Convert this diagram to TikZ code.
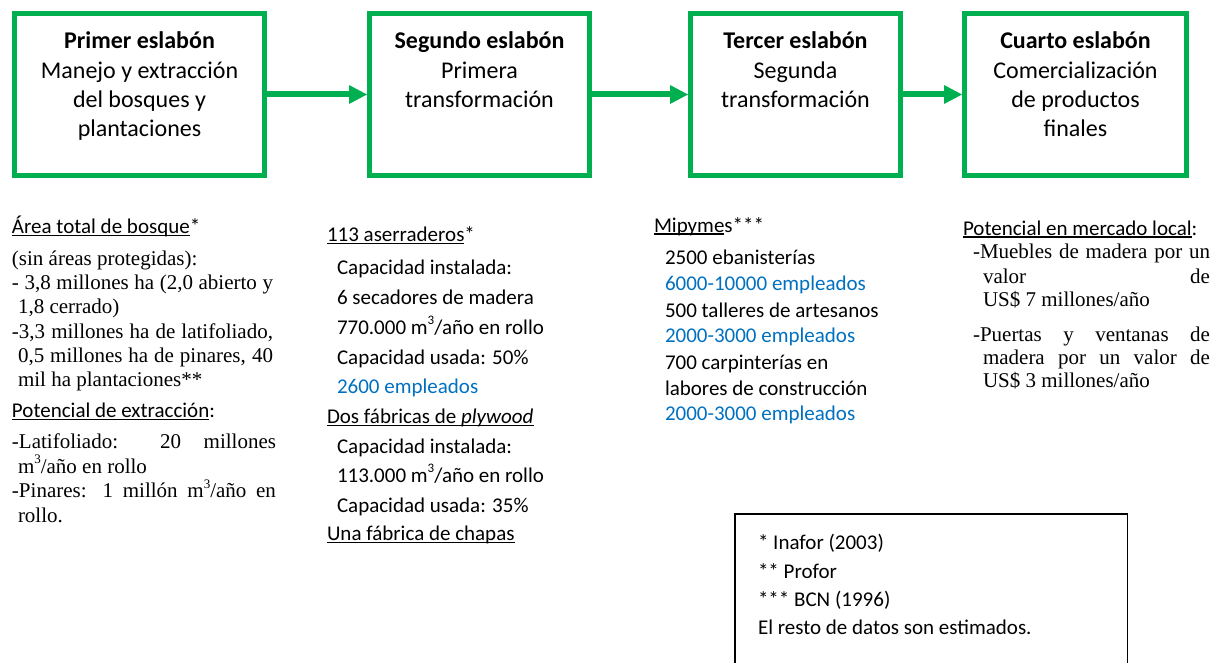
\documentclass[tikz,border=0pt]{standalone}
\usepackage{fontspec}
\setmainfont{Liberation Serif}
\newfontfamily\calfont{Carlito}
\usetikzlibrary{arrows.meta}
\definecolor{boxgreen}{HTML}{00B050}
\definecolor{empblue}{HTML}{0070C0}
\newcommand\myul[1]{\setbox0\hbox{#1}\rlap{\rule[-2.6pt]{\wd0}{1.1pt}}\box0}
\newcommand\sups[1]{\raisebox{0.45em}{\fontsize{13}{13}\selectfont #1}}
\newcommand\TL[5][]{\node[txt,#1] (#2) at (#3,#4) {#5};}
\begin{document}
\begin{tikzpicture}[x=1pt,y=-1pt,
  txt/.style={inner sep=0pt, outer sep=0pt, anchor=base west},
  ctr/.style={anchor=base},
  bigc/.style={font=\calfont\fontsize{24}{29}\selectfont},
  smc/.style={font=\calfont\fontsize{21}{25}\selectfont},
  tms/.style={font=\fontsize{21}{25}\selectfont},
  emp/.style={text=empblue},
  chainbox/.style={draw=boxgreen, line width=5pt, inner sep=0pt, outer sep=0pt, minimum height=162pt},
  link/.style={draw=boxgreen, line width=6pt, -{Triangle[length=18pt,width=19pt,line width=0pt]}, shorten >=2.5pt},
  notebox/.style={draw=black, line width=1.5pt, inner sep=0pt, outer sep=0pt, anchor=north west}
]
\useasboundingbox (0,0) rectangle (1212,663);
\clip (0,0) rectangle (1212,663);

% chain boxes
\node[chainbox, minimum width=250pt] (b1) at (139.5,94.5) {};
\node[chainbox, minimum width=220pt] (b2) at (479.5,94.5) {};
\node[chainbox, minimum width=210pt] (b3) at (795.5,94.5) {};
\node[chainbox, minimum width=222pt] (b4) at (1075.5,94.5) {};
\draw[link] (b1.east) -- (b2.west);
\draw[link] (b2.east) -- (b3.west);
\draw[link] (b3.east) -- (b4.west);

% box texts
\TL[bigc,ctr]{t1a}{139.5}{49}{\bfseries Primer eslabón}
\TL[bigc,ctr]{t1b}{139.5}{78.3}{Manejo y extracción}
\TL[bigc,ctr]{t1c}{139.5}{107.6}{del bosques y}
\TL[bigc,ctr]{t1d}{139.5}{136.9}{plantaciones}
\TL[bigc,ctr]{t2a}{479.5}{49}{\bfseries Segundo eslabón}
\TL[bigc,ctr]{t2b}{479.5}{78.3}{Primera}
\TL[bigc,ctr]{t2c}{479.5}{107.6}{transformación}
\TL[bigc,ctr]{t3a}{795.5}{49}{\bfseries Tercer eslabón}
\TL[bigc,ctr]{t3b}{795.5}{78.3}{Segunda}
\TL[bigc,ctr]{t3c}{795.5}{107.6}{transformación}
\TL[bigc,ctr]{t4a}{1075.5}{49}{\bfseries Cuarto eslabón}
\TL[bigc,ctr]{t4b}{1075.5}{78.3}{Comercialización}
\TL[bigc,ctr]{t4c}{1075.5}{107.6}{de productos}
\TL[bigc,ctr]{t4d}{1075.5}{136.9}{finales}

% column 1
\TL[smc]{c1a}{12}{233.5}{\myul{Área total de bosque}*}
\TL[tms]{c1b}{12}{265}{(sin áreas protegidas):}
\TL[tms]{c1c}{12}{289}{\makebox[261pt][s]{- 3,8 millones ha (2,0 abierto y}}
\TL[tms]{c1d}{18}{313.5}{1,8 cerrado)}
\TL[tms]{c1e}{12}{338}{\makebox[261pt][s]{-3,3 millones ha de latifoliado,}}
\TL[tms]{c1f}{18}{362}{\makebox[255pt][s]{0,5 millones ha de pinares, 40}}
\TL[tms]{c1g}{18}{386}{mil ha plantaciones**}
\TL[smc]{c1h}{12}{417.5}{\myul{Potencial de extracción}:}
\TL[tms]{c1i}{12}{448}{\makebox[264pt][s]{-Latifoliado: 20 millones}}
\TL[tms]{c1j}{18}{473}{m\sups{3}/año en rollo}
\TL[tms]{c1k}{12}{497.5}{\makebox[264pt][s]{-Pinares: 1 millón m\sups{3}/año en}}
\TL[tms]{c1l}{18}{522}{rollo.}

% column 2
\TL[smc]{c2a}{327}{241.5}{\myul{113 aserraderos}*}
\TL[smc]{c2b}{337}{274}{Capacidad instalada:}
\TL[smc]{c2c}{337}{304}{6 secadores de madera}
\TL[smc]{c2d}{337}{334}{770.000 m\sups{3}/año en rollo}
\TL[smc]{c2e}{337}{364}{Capacidad usada: 50\%}
\TL[smc,emp]{c2f}{337}{393}{2600 empleados}
\TL[smc]{c2g}{327}{423}{\myul{Dos fábricas de \itshape plywood}}
\TL[smc]{c2h}{337}{453}{Capacidad instalada:}
\TL[smc]{c2i}{337}{482}{113.000 m\sups{3}/año en rollo}
\TL[smc]{c2j}{337}{512}{Capacidad usada: 35\%}
\TL[smc]{c2k}{327}{540.5}{\myul{Una fábrica de chapas}}

% column 3
\TL[smc]{c3a}{654}{232}{\myul{Mipyme}s***}
\TL[smc]{c3b}{665}{264}{2500 ebanisterías}
\TL[smc,emp]{c3c}{665}{290}{6000-10000 empleados}
\TL[smc]{c3d}{665}{317}{500 talleres de artesanos}
\TL[smc,emp]{c3e}{665}{342}{2000-3000 empleados}
\TL[smc]{c3f}{665}{369}{700 carpinterías en}
\TL[smc]{c3g}{665}{395}{labores de construcción}
\TL[smc,emp]{c3h}{665}{420}{2000-3000 empleados}

% column 4
\TL[smc]{c4a}{963}{235}{\myul{Potencial en mercado local}:}
\TL[tms]{c4b}{973}{258}{\makebox[237pt][s]{-Muebles de madera por un}}
\TL[tms]{c4c}{983}{283}{\makebox[227pt][s]{valor de}}
\TL[tms]{c4d}{983}{306}{US\$ 7 millones/año}
\TL[tms]{c4e}{973}{341}{\makebox[237pt][s]{-Puertas y ventanas de}}
\TL[tms]{c4f}{983}{364}{\makebox[227pt][s]{madera por un valor de}}
\TL[tms]{c4g}{983}{387}{US\$ 3 millones/año}

% footnote box
\node[notebox, minimum width=392.5pt, minimum height=220pt] (fn) at (734.75,513.75) {};
\TL[smc]{f1}{758}{549}{* Inafor (2003)}
\TL[smc]{f2}{758}{578}{** Profor}
\TL[smc]{f3}{758}{606}{*** BCN (1996)}
\TL[smc]{f4}{758}{634}{El resto de datos son estimados.}
\end{tikzpicture}
\end{document}
